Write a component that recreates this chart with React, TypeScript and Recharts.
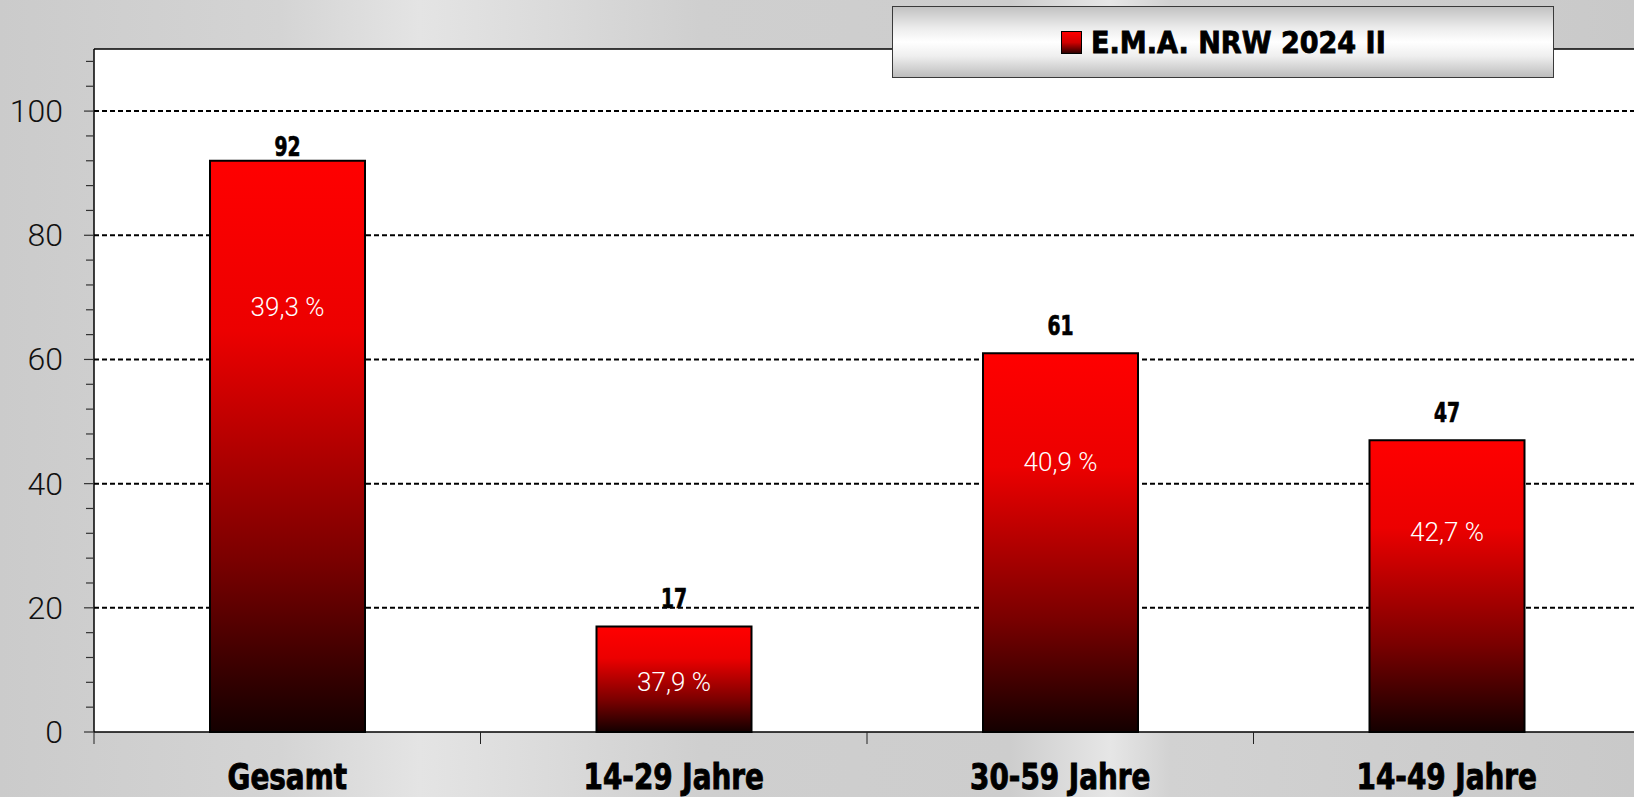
import React from 'react'
import { BarChart, Bar, XAxis, YAxis, CartesianGrid, LabelList, Legend, ReferenceLine } from 'recharts'

const categories = ['Gesamt', '14-29 Jahre', '30-59 Jahre', '14-49 Jahre']
const values = [92, 17, 61, 47]
const shares = [39.3, 37.9, 40.9, 42.7]
const seriesName = 'E.M.A. NRW 2024 II'
const yTicks = [0, 4, 8, 12, 16, 20, 24, 28, 32, 36, 40, 44, 48, 52, 56, 60, 64, 68, 72, 76, 80, 84, 88, 92, 96, 100, 104, 108]
const gridValues = [20, 40, 60, 80, 100]

const data = categories.map((name, i) => ({ name, value: values[i], share: shares[i] }))

const CHART_W = 1660
const CHART_H = 797
const Y_AXIS_W = 94
const MARGIN = { top: 49, right: 20, bottom: 0, left: 0 }
const BAND = (CHART_W - Y_AXIS_W - MARGIN.left - MARGIN.right) / categories.length
// gap between bar top and its value label (first one sits closer in the original)
const valueLabelGap = [5, 18, 18, 18]

const NARROW = '"Liberation Sans Narrow", "DejaVu Sans Condensed", Roboto, sans-serif'
const LIGHT = 'Roboto, "Noto Sans", sans-serif'

function YTick({ x, y, payload }: any) {
  const major = payload.value % 20 === 0
  return (
    <g>
      <line x1={x - (major ? 10 : 8)} x2={x} y1={y} y2={y} stroke="#333" strokeWidth={1.2} />
      {major && (
        <text x={x - 31} y={y} textAnchor="end" dominantBaseline="central"
          fontFamily={LIGHT} fontWeight={300} fontSize={32} fill="#111">
          {payload.value}
        </text>
      )}
    </g>
  )
}

function XTick({ x, y, payload }: any) {
  const bx = x - BAND / 2
  return (
    <g>
      <line x1={bx} x2={bx} y1={y} y2={y + 12} stroke="#222" strokeWidth={1} />
      <text transform={`translate(${x},${y + 57}) scale(0.86,1)`} textAnchor="middle"
        fontFamily={NARROW} fontWeight={700} fontSize={36} fill="#000" stroke="#000" strokeWidth={0.9}>
        {payload.value}
      </text>
    </g>
  )
}

function ValueLabel({ x, y, width, value, index }: any) {
  return (
    <text transform={`translate(${x + width / 2},${y - valueLabelGap[index]}) scale(0.8,1)`}
      textAnchor="middle" fontFamily={NARROW} fontWeight={700} fontSize={26}
      fill="#000" stroke="#000" strokeWidth={0.7}>
      {value}
    </text>
  )
}

function ShareLabel({ x, y, width, height, value }: any) {
  const cy = y + 35 + 0.195 * height
  return (
    <text x={x + width / 2} y={cy} textAnchor="middle" dominantBaseline="central"
      fontFamily={LIGHT} fontWeight={300} fontSize={26} fill="#fff">
      {String(value).replace('.', ',')} %
    </text>
  )
}

function LegendBox() {
  return (
    <div style={{
      width: '100%', height: '100%', boxSizing: 'border-box', border: '1px solid #3a3a3a',
      background: 'linear-gradient(to bottom, #c2c2c2 0%, #ececec 30%, #ffffff 50%, #efefef 70%, #bdbdbd 100%)',
      display: 'flex', alignItems: 'center', justifyContent: 'center', gap: 9,
    }}>
      <span style={{
        display: 'inline-block', width: 19, height: 21, border: '1px solid #000',
        background: 'linear-gradient(to bottom, #ff0000 0%, #d00000 50%, #300000 100%)',
      }} />
      <span style={{
        display: 'inline-block', fontFamily: NARROW, fontWeight: 700, fontSize: 31, color: '#000',
        WebkitTextStroke: '0.8px #000', lineHeight: 1, transform: 'scaleX(0.97)', transformOrigin: 'left center',
        marginRight: -9,
      }}>
        {seriesName}
      </span>
    </div>
  )
}

export default function App() {
  return (
    <div style={{
      position: 'absolute', left: 0, top: 0, width: 1634, height: 797, overflow: 'hidden',
      background: 'linear-gradient(to right, #cbcbcb 0px, #d4d4d4 280px, #e4e4e4 420px, #dadada 560px, #cfcfcf 700px, #cdcdcd 1010px, #e6e6e6 1110px, #d2d2d2 1170px, #c9c9c9 1634px)',
    }}>
      <BarChart width={CHART_W} height={CHART_H} data={data} margin={MARGIN}>
        <defs>
          <linearGradient id="barGrad" x1="0" y1="0" x2="0" y2="1">
            <stop offset="0%" stopColor="#ff0000" />
            <stop offset="30%" stopColor="#ec0000" />
            <stop offset="70%" stopColor="#7a0000" />
            <stop offset="100%" stopColor="#140000" />
          </linearGradient>
        </defs>
        <CartesianGrid fill="#ffffff" vertical={false} horizontalValues={gridValues}
          stroke="#000" strokeWidth={2} strokeDasharray="5 3" />
        <ReferenceLine y={110} stroke="#000" strokeWidth={1.5} />
        <XAxis dataKey="name" interval={0} tickLine={false} tickSize={0} tickMargin={0}
          height={65} axisLine={{ stroke: '#000', strokeWidth: 1.5 }} tick={<XTick />} />
        <YAxis domain={[0, 110]} ticks={yTicks} interval={0} width={Y_AXIS_W} tickLine={false}
          tickSize={0} tickMargin={0} axisLine={{ stroke: '#000', strokeWidth: 1.5 }} tick={<YTick />} />
        <Legend layout="vertical" align="center" verticalAlign="middle" content={<LegendBox />}
          wrapperStyle={{ position: 'absolute', left: 892, top: 6, width: 662, height: 72 }} />
        <Bar dataKey="value" name={seriesName} barSize={155} fill="url(#barGrad)" stroke="#000"
          strokeWidth={2} isAnimationActive={false}>
          <LabelList dataKey="value" content={<ValueLabel />} />
          <LabelList dataKey="share" content={<ShareLabel />} />
        </Bar>
      </BarChart>
    </div>
  )
}
